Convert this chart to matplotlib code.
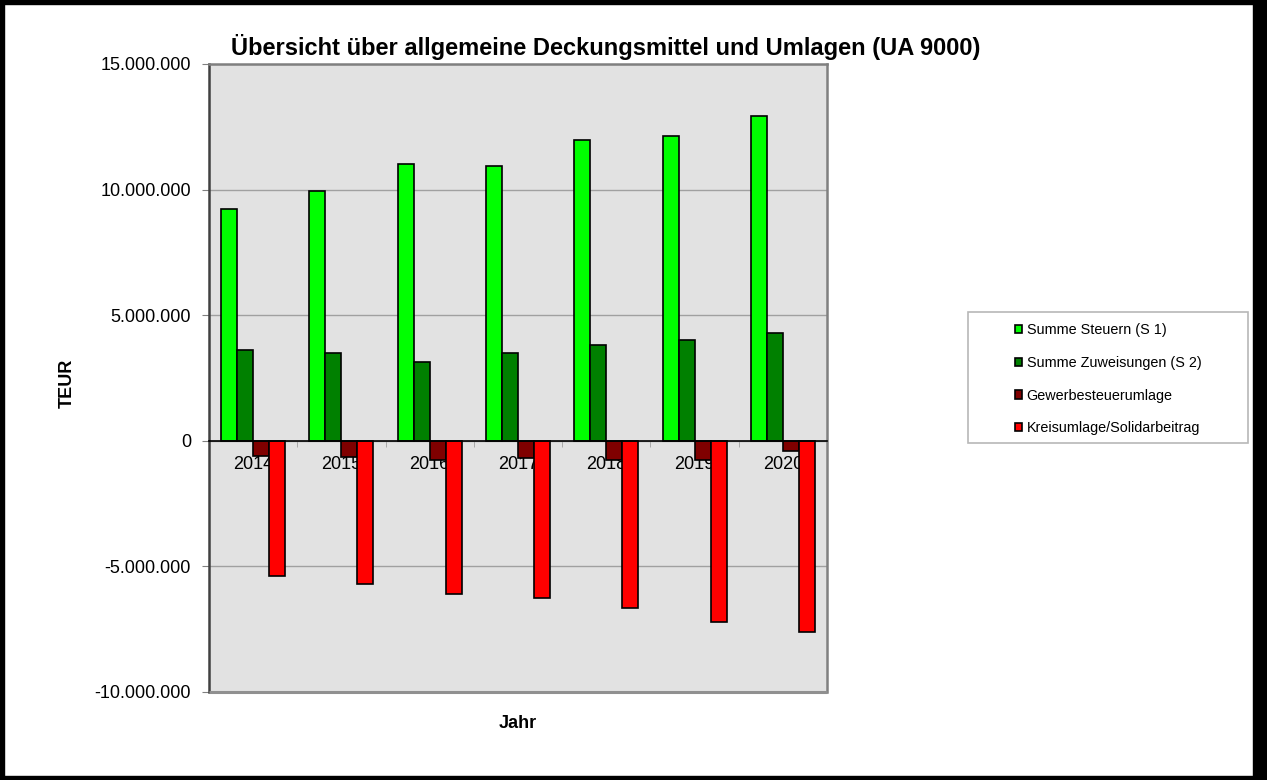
import matplotlib
matplotlib.use("Agg")
import matplotlib.pyplot as plt
import numpy as np
from matplotlib.patches import Rectangle
from matplotlib.ticker import FuncFormatter, MultipleLocator

plt.rcParams['font.family'] = ['Liberation Sans', 'DejaVu Sans']

# Werte in EUR
jahre = ['2014', '2015', '2016', '2017', '2018', '2019', '2020']
steuern = [9230000, 9960000, 11020000, 10930000, 11960000, 12120000, 12940000]
zuweisungen = [3630000, 3500000, 3130000, 3510000, 3800000, 4030000, 4310000]
gewerbesteuerumlage = [-620000, -660000, -780000, -690000, -760000, -760000, -410000]
kreisumlage = [-5380000, -5690000, -6110000, -6270000, -6670000, -7200000, -7610000]

serien = [steuern, zuweisungen, gewerbesteuerumlage, kreisumlage]
namen = ['Summe Steuern (S 1)', 'Summe Zuweisungen (S 2)',
         'Gewerbesteuerumlage', 'Kreisumlage/Solidarbeitrag']
farben = ['#00ff00', '#008000', '#800000', '#ff0000']

W, H = 1267, 780
fig = plt.figure(figsize=(W / 100, H / 100), dpi=100)
ax = fig.add_axes([209 / W, 1 - 692 / H, (827 - 209) / W, (692 - 64) / H])
ax.set_facecolor('#e2e2e2')
ax.set_axisbelow(True)

x = np.arange(len(jahre))
w = 0.181
balken = []
for k, (werte, name, farbe) in enumerate(zip(serien, namen, farben)):
    b = ax.bar(x + (k - 1.5) * w, werte, w, color=farbe, edgecolor='black',
               linewidth=1.2, label=name, zorder=2)
    balken.append(b)

ax.set_xlim(-0.5, len(jahre) - 0.5)
ax.set_ylim(-10000000, 15000000)
ax.yaxis.set_major_locator(MultipleLocator(5000000))
ax.yaxis.set_major_formatter(FuncFormatter(lambda v, p: f"{v:,.0f}".replace(',', '.')))
ax.grid(axis='y', color='#a0a0a0', linewidth=1)

ax.set_xticks(x)
ax.set_xticklabels(jahre)
ax.set_xticks(np.arange(-0.5, len(jahre)), minor=True)
ax.tick_params(axis='x', which='major', length=0, pad=11, labelsize=13)
ax.tick_params(axis='x', which='minor', length=4, direction='out', color='#a0a0a0')
ax.tick_params(axis='y', length=5, color='#808080', pad=8, labelsize=13)

ax.spines['bottom'].set_position(('data', 0))
ax.spines['bottom'].set_color('black')
ax.spines['bottom'].set_linewidth(1.2)
for s in ['left', 'top', 'right']:
    ax.spines[s].set_color('#808080')
    ax.spines[s].set_linewidth(1.8)
ax.spines['left'].set_color('#404040')
ax.add_patch(Rectangle((0, 0), 1, 0.0, transform=ax.transAxes, fill=False,
                       edgecolor='#909090', linewidth=2.2, clip_on=False, zorder=3))

fig.text(606 / W, 1 - 47 / H, 'Übersicht über allgemeine Deckungsmittel und Umlagen (UA 9000)',
         ha='center', va='center', fontsize=17, fontweight='bold')
fig.text(67 / W, 1 - 383 / H, 'TEUR', rotation=90, ha='center', va='center',
         fontsize=13, fontweight='bold')
fig.text(518 / W, 1 - 724 / H, 'Jahr', ha='center', va='center',
         fontsize=13, fontweight='bold')

# Legende mit eigenem Rahmen
fig.add_artist(Rectangle((968 / W, 1 - 443 / H), (1248 - 968) / W, (443 - 312) / H,
                         transform=fig.transFigure, fill=False, edgecolor='#b8b8b8',
                         linewidth=1.2))
fig.legend(handles=balken, loc='upper left', bbox_to_anchor=(1015 / W, 1 - 323 / H),
           frameon=False, fontsize=10.4, handlelength=0.5, handleheight=0.5,
           handletextpad=0.3, labelspacing=1.3, borderpad=0, borderaxespad=0)

# schwarzer Rahmen um das Bild
for (x0, y0, bw, bh) in [(0, 0, W, 4), (0, H - 4, W, 4), (0, 0, 4, H), (W - 14, 0, 14, H)]:
    fig.add_artist(Rectangle((x0 / W, y0 / H), bw / W, bh / H, transform=fig.transFigure,
                             color='black', zorder=10))

fig.savefig('out.png', dpi=100)
